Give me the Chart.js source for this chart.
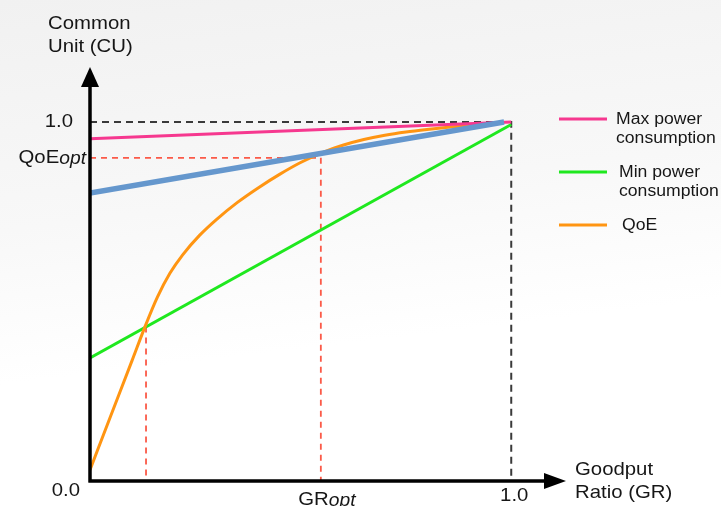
<!DOCTYPE html>
<html><head><meta charset="utf-8">
<script src="https://cdn.jsdelivr.net/npm/chart.js@4/dist/chart.umd.min.js"></script>
<style>html,body{margin:0;padding:0;background:#fff}</style>
</head><body>
<canvas id="c" width="721" height="506"></canvas>
<script>
// ---- data ----
const qoeX = [0, 0.05, 0.10, 0.13, 0.16, 0.19, 0.22, 0.26, 0.30, 0.35, 0.40, 0.45, 0.50, 0.55, 0.60, 0.65, 0.70, 0.75, 0.80, 0.85, 0.90, 0.95, 0.975];
const qoeY = [0.031, 0.184, 0.336, 0.428, 0.512, 0.579, 0.630, 0.684, 0.728, 0.776, 0.817, 0.854, 0.887, 0.914, 0.935, 0.951, 0.963, 0.972, 0.979, 0.985, 0.990, 0.995, 0.997];
const maxPowerX = [0, 1];
const maxPowerY = [0.953, 1.0];
const minPowerX = [0, 1];
const minPowerY = [0.343, 0.993];
const optLineX = [0, 0.983];
const optLineY = [0.802, 1.0];
const qoeOpt = 0.9;
const grOpt = 0.548;
const grCross = 0.133;
const crossY = 0.43;
const legendLabels = [["Max power", "consumption"], ["Min power", "consumption"], ["QoE"]];
const yTickValues = [1.0, qoeOpt];
const yTickLabels = [["1.0", ""], ["QoE", "opt"]];
const xTickValues = [grOpt, 1.0];
const xTickLabels = [["GR", "opt"], ["1.0", ""]];
const originLabel = "0.0";
const yTitle = ["Common", "Unit (CU)"];
const xTitle = ["Goodput", "Ratio (GR)"];

const pts = (xs, ys) => xs.map((x, i) => ({x, y: ys[i]}));
const FONT = '"Liberation Sans", Arial, Helvetica, sans-serif';
const SX = 1.1; // horizontal stretch of text seen in the reference

const bgPlugin = {
  id: 'bg',
  beforeDraw(chart) {
    const ctx = chart.ctx;
    const g = ctx.createLinearGradient(0, 0, 60, 506);
    g.addColorStop(0, '#f1f1f1');
    g.addColorStop(0.45, '#f8f8f8');
    g.addColorStop(0.75, '#ffffff');
    g.addColorStop(1, '#ffffff');
    ctx.save();
    ctx.fillStyle = g;
    ctx.fillRect(0, 0, chart.width, chart.height);
    ctx.restore();
  }
};

function txt(ctx, s, x, y, font) {
  ctx.save();
  ctx.font = font;
  ctx.textAlign = 'left';
  ctx.textBaseline = 'middle';
  ctx.translate(x, y);
  ctx.scale(SX, 1);
  ctx.fillText(s, 0, 0);
  ctx.restore();
}
function tw(ctx, s, font) { ctx.save(); ctx.font = font; const w = ctx.measureText(s).width * SX; ctx.restore(); return w; }

function drawSubText(ctx, main, sub, x, y, align, size) {
  const f1 = size + 'px ' + FONT, f2 = 'italic ' + (size - 1) + 'px ' + FONT;
  const w1 = tw(ctx, main, f1);
  const w2 = sub ? tw(ctx, sub, f2) : 0;
  const tot = w1 + w2;
  const sx = align === 'right' ? x - tot : align === 'center' ? x - tot / 2 : x;
  txt(ctx, main, sx, y, f1);
  if (sub) txt(ctx, sub, sx + w1, y + 1, f2);
}

const decoPlugin = {
  id: 'deco',
  afterDatasetsDraw(chart) {
    const ctx = chart.ctx;
    const xs = chart.scales.x, ys = chart.scales.y;
    const ox = xs.getPixelForValue(0), oy = ys.getPixelForValue(0);
    const ca = chart.chartArea;
    ctx.save();
    ctx.strokeStyle = '#000';
    ctx.fillStyle = '#000';
    ctx.lineWidth = 3.5;
    ctx.beginPath();
    ctx.moveTo(ox, oy + 1.5);
    ctx.lineTo(ox, ca.top + 20);
    ctx.moveTo(ox - 1.5, oy);
    ctx.lineTo(ca.right - 22, oy);
    ctx.stroke();
    ctx.beginPath();
    ctx.moveTo(ox, ca.top);
    ctx.lineTo(ox - 9, ca.top + 20);
    ctx.lineTo(ox + 9, ca.top + 20);
    ctx.closePath();
    ctx.fill();
    ctx.beginPath();
    ctx.moveTo(ca.right, oy);
    ctx.lineTo(ca.right - 22, oy - 8);
    ctx.lineTo(ca.right - 22, oy + 8);
    ctx.closePath();
    ctx.fill();

    ctx.fillStyle = '#161616';
    yTickValues.forEach((v, i) => {
      const py = ys.getPixelForValue(v);
      const [m, s] = yTickLabels[i];
      if (s) drawSubText(ctx, m, s, 86, py, 'right', 18.5);
      else drawSubText(ctx, m, s, 73, py, 'right', 18.5);
    });
    xTickValues.forEach((v, i) => {
      const px = xs.getPixelForValue(v);
      const [m, s] = xTickLabels[i];
      if (s) drawSubText(ctx, m, s, px + 6, oy + 19, 'center', 18.5);
      else drawSubText(ctx, m, s, px + 3, oy + 15, 'center', 18.5);
    });
    drawSubText(ctx, originLabel, '', 80, oy + 10, 'right', 18.5);

    const tf = '18.5px ' + FONT;
    txt(ctx, yTitle[0], 48, 24, tf);
    txt(ctx, yTitle[1], 48, 47, tf);
    txt(ctx, xTitle[0], 575, 470, tf);
    txt(ctx, xTitle[1], 575, 493, tf);

    const lx0 = 559, lx1 = 607;
    const ly = [119, 172, 225];
    const lf = '16px ' + FONT;
    chart.data.datasets.filter(d => d.legendIndex !== undefined).forEach(d => {
      const i = d.legendIndex;
      ctx.strokeStyle = d.borderColor;
      ctx.lineWidth = 3;
      ctx.beginPath();
      ctx.moveTo(lx0, ly[i]);
      ctx.lineTo(lx1, ly[i]);
      ctx.stroke();
      const tx = i === 0 ? 616 : (i === 1 ? 619 : 622);
      legendLabels[i].forEach((t, k) => txt(ctx, t, tx, ly[i] + 1 + k * 19, lf));
    });
    ctx.restore();
  }
};

const dash = (data, color, w, d) => ({
  data, borderColor: color, borderWidth: w, borderDash: d, pointRadius: 0, fill: false, order: 10
});

new Chart(document.getElementById('c'), {
  type: 'line',
  data: {
    datasets: [
      { label: 'opt', data: pts(optLineX, optLineY), borderColor: '#6597cd', borderWidth: 5.5, pointRadius: 0, order: 0 },
      { label: 'Max power consumption', legendIndex: 0, data: pts(maxPowerX, maxPowerY), borderColor: '#f6388f', borderWidth: 3, pointRadius: 0, order: 1 },
      { label: 'QoE', legendIndex: 2, data: pts(qoeX, qoeY), borderColor: '#ff9512', borderWidth: 3, pointRadius: 0, cubicInterpolationMode: 'monotone', order: 2 },
      { label: 'Min power consumption', legendIndex: 1, data: pts(minPowerX, minPowerY), borderColor: '#1fe81f', borderWidth: 3, pointRadius: 0, order: 3 },
      dash([{x: 0, y: 1}, {x: 1, y: 1}, {x: 1, y: 0}], '#3a3a3a', 2, [7, 5]),
      dash([{x: 0, y: qoeOpt}, {x: grOpt, y: qoeOpt}], '#fb5a48', 1.8, [6, 5]),
      dash([{x: grOpt, y: qoeOpt}, {x: grOpt, y: 0}], '#fb5a48', 1.8, [6, 5]),
      dash([{x: grCross, y: crossY}, {x: grCross, y: 0}], '#fb5a48', 1.8, [6, 5])
    ]
  },
  options: {
    responsive: false,
    devicePixelRatio: 1,
    animation: false,
    layout: { padding: { left: 90, right: 155, top: 67, bottom: 25 } },
    scales: {
      x: { type: 'linear', min: 0, max: 1.13, display: false },
      y: { type: 'linear', min: 0, max: 1.153, display: false }
    },
    plugins: { legend: { display: false }, tooltip: { enabled: false } }
  },
  plugins: [bgPlugin, decoPlugin]
});
</script>
</body></html>
